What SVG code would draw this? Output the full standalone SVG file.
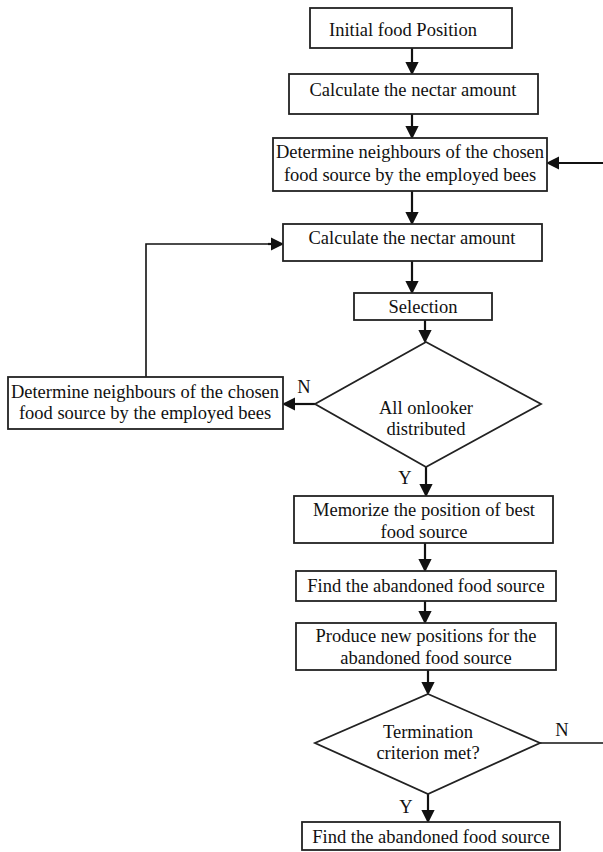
<svg xmlns="http://www.w3.org/2000/svg" width="603" height="852" viewBox="0 0 603 852">
<style>
.box{fill:#fff;stroke:#222;stroke-width:1.8}
.t{font-family:"Liberation Serif","Times New Roman",serif;font-size:18.5px;fill:#111;text-anchor:middle}
.c{fill:none;stroke:#111;stroke-width:2.2}
.l{fill:none;stroke:#111;stroke-width:1.6}
</style>
<defs>
<marker id="ah" markerWidth="6" markerHeight="6" refX="5" refY="3" orient="auto" markerUnits="strokeWidth">
<path d="M0,0 L6,3 L0,6 Z" fill="#111"/>
</marker>
</defs>
<rect width="603" height="852" fill="#fff"/>
<g id="connectors">
<path class="c" d="M412,48 V73" marker-end="url(#ah)"/>
<path class="c" d="M412,114 V137" marker-end="url(#ah)"/>
<path class="c" d="M603,163 H548" marker-end="url(#ah)"/>
<path class="c" d="M412,191 V223" marker-end="url(#ah)"/>
<path class="c" d="M412,261 V292" marker-end="url(#ah)"/>
<path class="c" d="M425,320 V341" marker-end="url(#ah)"/>
<path class="c" d="M315,404 H284" marker-end="url(#ah)"/>
<path class="l" d="M146,377 V244 H270"/>
<path class="c" d="M268,244 H282" marker-end="url(#ah)"/>
<path class="c" d="M426,467 V495" marker-end="url(#ah)"/>
<path class="c" d="M425,543 V570" marker-end="url(#ah)"/>
<path class="c" d="M425,601 V622" marker-end="url(#ah)"/>
<path class="c" d="M428,670 V693" marker-end="url(#ah)"/>
<path class="l" d="M540,743 H603"/>
<path class="c" d="M428,794 V821" marker-end="url(#ah)"/>
<text class="t" x="304" y="393">N</text>
<text class="t" x="405" y="484">Y</text>
<text class="t" x="562" y="736">N</text>
<text class="t" x="406" y="813">Y</text>
</g>
<g id="n1"><rect class="box" x="310" y="8" width="202" height="40"/><text class="t" x="403" y="36">Initial food Position</text></g>
<g id="n2"><rect class="box" x="289" y="74" width="249" height="40"/><text class="t" x="413" y="96">Calculate the nectar amount</text></g>
<g id="n3"><rect class="box" x="273" y="138" width="274" height="53"/><text class="t" x="410" y="158">Determine neighbours of the chosen</text><text class="t" x="410" y="181">food source by the employed bees</text></g>
<g id="n4"><rect class="box" x="283" y="224" width="259" height="37"/><text class="t" x="412" y="244">Calculate the nectar amount</text></g>
<g id="n5"><rect class="box" x="354" y="293" width="138" height="27"/><text class="t" x="423" y="313">Selection</text></g>
<g id="d1"><polygon class="box" points="426,342 541,404 426,467 315,404"/><text class="t" x="426" y="414">All onlooker</text><text class="t" x="426" y="435">distributed</text></g>
<g id="n6"><rect class="box" x="8" y="377" width="275" height="52"/><text class="t" x="145" y="398">Determine neighbours of the chosen</text><text class="t" x="145" y="419">food source by the employed bees</text></g>
<g id="n7"><rect class="box" x="294" y="496" width="259" height="47"/><text class="t" x="424" y="516">Memorize the position of best</text><text class="t" x="424" y="538">food source</text></g>
<g id="n8"><rect class="box" x="296" y="571" width="260" height="30"/><text class="t" x="426" y="592">Find the abandoned food source</text></g>
<g id="n9"><rect class="box" x="296" y="623" width="260" height="47"/><text class="t" x="426" y="642">Produce new positions for the</text><text class="t" x="426" y="664">abandoned food source</text></g>
<g id="d2"><polygon class="box" points="428,694 540,743 428,794 315,743"/><text class="t" x="428" y="738">Termination</text><text class="t" x="428" y="759">criterion met?</text></g>
<g id="n10"><rect class="box" x="302" y="822" width="258" height="28"/><text class="t" x="431" y="843">Find the abandoned food source</text></g>
</svg>
